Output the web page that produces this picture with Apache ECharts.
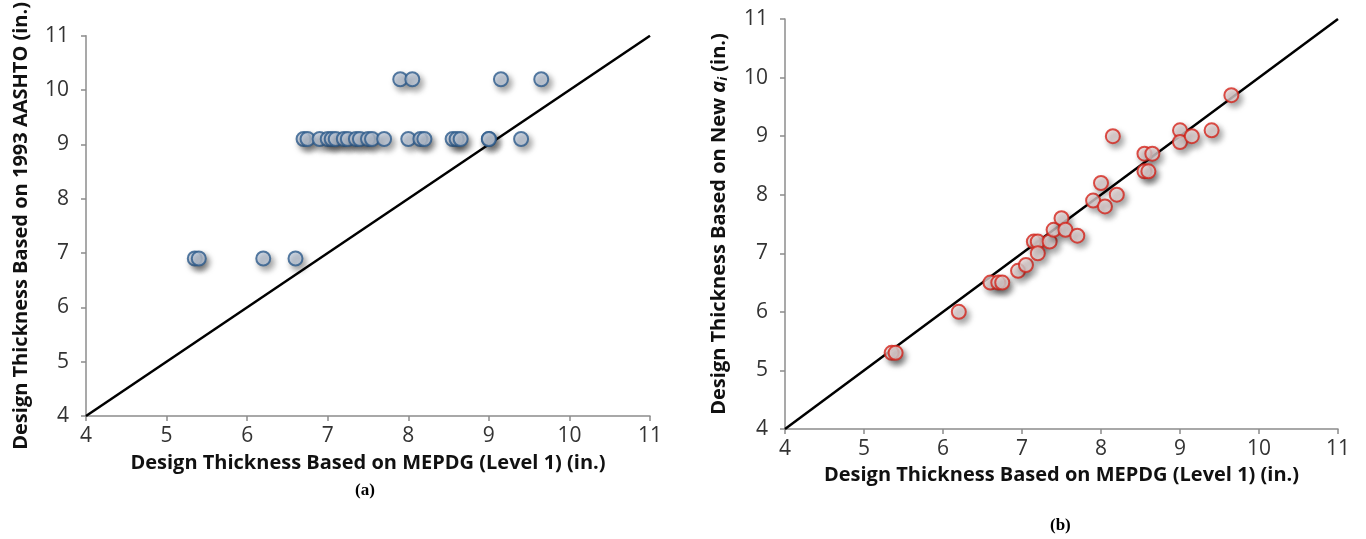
<!DOCTYPE html>
<html>
<head>
<meta charset="utf-8">
<title>Design thickness comparison</title>
<script src="https://cdn.jsdelivr.net/npm/echarts@6/dist/echarts.min.js"></script>
<style>
  html, body { margin: 0; padding: 0; background: #fff; }
  #chart { width: 1366px; height: 539px; }
</style>
</head>
<body>
<div id="chart"></div>
<script>
// (a) MEPDG vs 1993 AASHTO
const aashtoX = [5.35, 5.4, 6.2, 6.6,
  6.7, 6.75, 6.9, 7.0, 7.05, 7.1, 7.2, 7.25, 7.35, 7.4, 7.5, 7.55, 7.7,
  8.0, 8.15, 8.2, 8.55, 8.6, 8.65, 9.0, 9.0, 9.4,
  7.9, 8.05, 9.15, 9.65];
const aashtoY = [6.9, 6.9, 6.9, 6.9,
  9.1, 9.1, 9.1, 9.1, 9.1, 9.1, 9.1, 9.1, 9.1, 9.1, 9.1, 9.1, 9.1,
  9.1, 9.1, 9.1, 9.1, 9.1, 9.1, 9.1, 9.1, 9.1,
  10.2, 10.2, 10.2, 10.2];

// (b) MEPDG vs new a_i
const newAiX = [5.35, 5.4, 6.2, 6.6, 6.7, 6.75, 6.95, 7.05, 7.15, 7.2,
  7.2, 7.35, 7.4, 7.5, 7.55, 7.7, 7.9, 8.0, 8.05, 8.2,
  8.15, 8.55, 8.65, 8.55, 8.6, 9.0, 9.0, 9.15, 9.4, 9.65];
const newAiY = [5.3, 5.3, 6.0, 6.5, 6.5, 6.5, 6.7, 6.8, 7.2, 7.2,
  7.0, 7.2, 7.4, 7.6, 7.4, 7.3, 7.9, 8.2, 7.8, 8.0,
  9.0, 8.7, 8.7, 8.4, 8.4, 9.1, 8.9, 9.0, 9.1, 9.7];

// line of equality
const equalityLine = [4, 11];
const axisMin = 4, axisMax = 11, axisStep = 1;

const font = "Open Sans";

const chart = echarts.init(document.getElementById("chart"));

function pairs(xs, ys) {
  return xs.map((x, i) => [x, ys[i]]);
}

// tick label style, passed through rich text so the size sticks
const tickRich = { t: { fontFamily: font, fontSize: 21, color: "#333" } };

function makeXAxis(gridIndex, nameGap) {
  return {
    gridIndex,
    type: "value",
    min: axisMin,
    max: axisMax,
    interval: axisStep,
    name: "Design Thickness Based on MEPDG (Level 1) (in.)",
    nameLocation: "middle",
    nameGap,
    nameTextStyle: { fontFamily: font, fontWeight: "bold", fontSize: 20, color: "#111" },
    axisLine: { lineStyle: { color: "#8c8c8c", width: 1.5 } },
    axisTick: { show: true, length: 5, lineStyle: { color: "#8c8c8c", width: 1.5 } },
    axisLabel: { formatter: "{t|{value}}", rich: tickRich, fontSize: 21, margin: 10 },
    splitLine: { show: false },
  };
}

function makeYAxis(gridIndex, name, nameGap, rich) {
  return {
    gridIndex,
    type: "value",
    min: axisMin,
    max: axisMax,
    interval: axisStep,
    name,
    nameLocation: "middle",
    nameGap,
    nameTextStyle: { fontFamily: font, fontWeight: "bold", fontSize: 20, color: "#111", rich },
    axisLine: { show: true, lineStyle: { color: "#8c8c8c", width: 1.5 } },
    axisTick: { show: true, length: 5, lineStyle: { color: "#8c8c8c", width: 1.5 } },
    axisLabel: { formatter: "{t|{value}}", rich: tickRich, fontSize: 21, margin: 17 },
    splitLine: { show: false },
  };
}

function scatter(idx, data, border, fill) {
  return {
    type: "scatter",
    xAxisIndex: idx,
    yAxisIndex: idx,
    data,
    symbol: "circle",
    symbolSize: 14,
    itemStyle: {
      color: fill,
      borderColor: border,
      borderWidth: 2,
      shadowBlur: 6,
      shadowOffsetX: 3,
      shadowOffsetY: 4,
      shadowColor: "rgba(0,0,0,0.45)",
    },
    z: 3,
  };
}

function diagonal(idx) {
  return {
    type: "line",
    xAxisIndex: idx,
    yAxisIndex: idx,
    data: equalityLine.map((v) => [v, v]),
    symbol: "none",
    lineStyle: { color: "#000", width: 2.5 },
    z: 2,
  };
}

chart.setOption({
  animation: false,
  grid: [
    { left: 86, right: 716, top: 33, bottom: 123 },
    { left: 785, right: 28, top: 19, bottom: 110 },
  ],
  xAxis: [makeXAxis(0, 37), makeXAxis(1, 32)],
  yAxis: [
    makeYAxis(0, "Design Thickness Based on 1993 AASHTO (in.)", 55),
    makeYAxis(1, "Design Thickness Based on New {it|a}{sub|i} (in.)", 55, {
      it: { fontFamily: font, fontWeight: "bold", fontStyle: "italic", fontSize: 20, color: "#111" },
      sub: { fontFamily: font, fontWeight: "bold", fontStyle: "italic", fontSize: 13, color: "#111", verticalAlign: "bottom", padding: [9, 0, 0, 0] },
    }),
  ],
  series: [
    diagonal(0),
    scatter(0, pairs(aashtoX, aashtoY), "#2d5b8c", "#c7d2e2"),
    diagonal(1),
    scatter(1, pairs(newAiX, newAiY), "#d5241c", "#ecdcdc"),
  ],
  graphic: [
    {
      type: "text",
      left: 355,
      top: 482,
      style: { text: "(a)", font: "bold 17px 'Liberation Serif'", fill: "#000" },
    },
    {
      type: "text",
      left: 1050,
      top: 517,
      style: { text: "(b)", font: "bold 17px 'Liberation Serif'", fill: "#000" },
    },
  ],
});
</script>
</body>
</html>
